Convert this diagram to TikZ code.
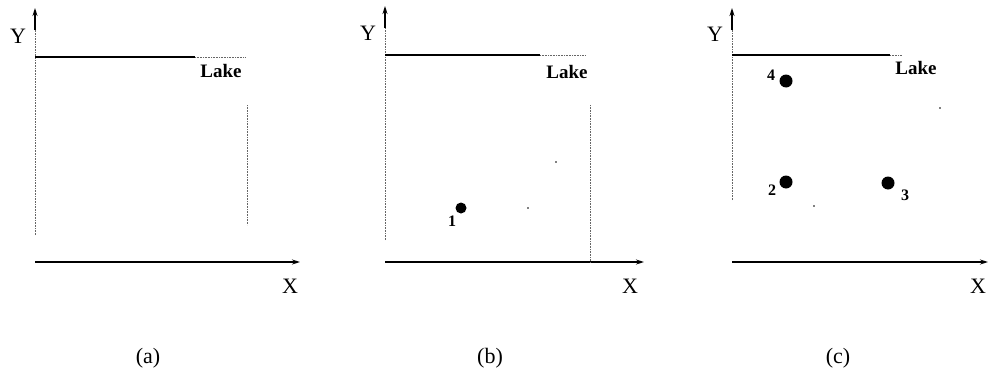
\documentclass[tikz,border=0pt]{standalone}
\usepackage{fontspec}
\setmainfont{Liberation Serif}
\usetikzlibrary{arrows.meta}
\begin{document}
\begin{tikzpicture}[x=1pt,y=-1pt,
  axis/.style={line width=1.2pt,-{Stealth[length=8pt,width=5pt]}},
  shore/.style={line width=1.2pt},
  faint/.style={line width=0.6pt,densely dotted,black!60},
  lbl/.style={font=\fontsize{22}{22}\selectfont,inner sep=0pt},
  lake/.style={font=\fontsize{19}{19}\selectfont\bfseries,inner sep=0pt},
  captext/.style={font=\fontsize{22}{22}\selectfont,inner sep=0pt},
  num/.style={font=\fontsize{16}{16}\selectfont\bfseries,inner sep=0pt},
  site/.style={circle,fill=black,inner sep=0pt,minimum size=13pt},
  speck/.style={circle,fill=black,inner sep=0pt,minimum size=1.8pt}]
\useasboundingbox (0,0) rectangle (988,372);
% ---------- panel (a)
\coordinate (ao) at (35,262);
\coordinate (ay) at (35,8);
\coordinate (ax) at (300,262);
\coordinate (at) at (35,57);
\coordinate (as) at (195,57);
\coordinate (ae) at (246,57);
\coordinate (ar1) at (247,105);
\coordinate (ar2) at (247,225);
\draw[faint] (35,235) -- (35,20);
\draw[axis] (35,30) -- (ay);
\draw[axis] (ao) -- (ax);
\draw[shore] (at) -- (as);
\draw[faint] (as) -- (ae);
\draw[faint] (ar1) -- (ar2);
\node[lbl] (aY) at (18,36) {Y};
\node[lbl] (aX) at (290,286) {X};
\node[lake] (aL) at (221,71) {Lake};
\node[captext] (aC) at (148,358) {(a)};
% ---------- panel (b)
\coordinate (bo) at (385,262);
\coordinate (by) at (385,6);
\coordinate (bx) at (644,262);
\coordinate (bt) at (385,55);
\coordinate (bs) at (540,55);
\coordinate (be) at (585,55);
\coordinate (br1) at (590,105);
\coordinate (br2) at (590,262);
\draw[faint] (385,240) -- (385,20);
\draw[axis] (385,28) -- (by);
\draw[axis] (bo) -- (bx);
\draw[shore] (bt) -- (bs);
\draw[faint] (bs) -- (be);
\draw[faint] (br1) -- (br2);
\node[lbl] (bY) at (368,33) {Y};
\node[lbl] (bX) at (630,286) {X};
\node[lake] (bL) at (567,72) {Lake};
\node[site,minimum size=11pt] (p1) at (461,208) {};
\node[num] (n1) at (452,221) {1};
\node[speck] (s1) at (556,162) {};
\node[speck] (s2) at (528,208) {};
\node[captext] (bC) at (490,358) {(b)};
% ---------- panel (c)
\coordinate (co) at (732,262);
\coordinate (cy) at (732,8);
\coordinate (cx) at (988,262);
\coordinate (ct) at (732,55);
\coordinate (cs) at (890,55);
\coordinate (ce) at (902,55);
\draw[faint] (732,200) -- (732,20);
\draw[axis] (732,30) -- (cy);
\draw[axis] (co) -- (cx);
\draw[shore] (ct) -- (cs);
\draw[faint] (cs) -- (ce);
\node[lbl] (cY) at (715,34) {Y};
\node[lbl] (cX) at (978,286) {X};
\node[lake] (cL) at (916,68) {Lake};
\node[site] (p4) at (786,81) {};
\node[num] (n4) at (771,75) {4};
\node[site] (p2) at (786,182) {};
\node[num] (n2) at (772,190) {2};
\node[site] (p3) at (888,183) {};
\node[num] (n3) at (905,195) {3};
\node[speck] (s3) at (940,108) {};
\node[speck] (s4) at (814,206) {};
\node[captext] (cC) at (838,358) {(c)};
\end{tikzpicture}
\end{document}
